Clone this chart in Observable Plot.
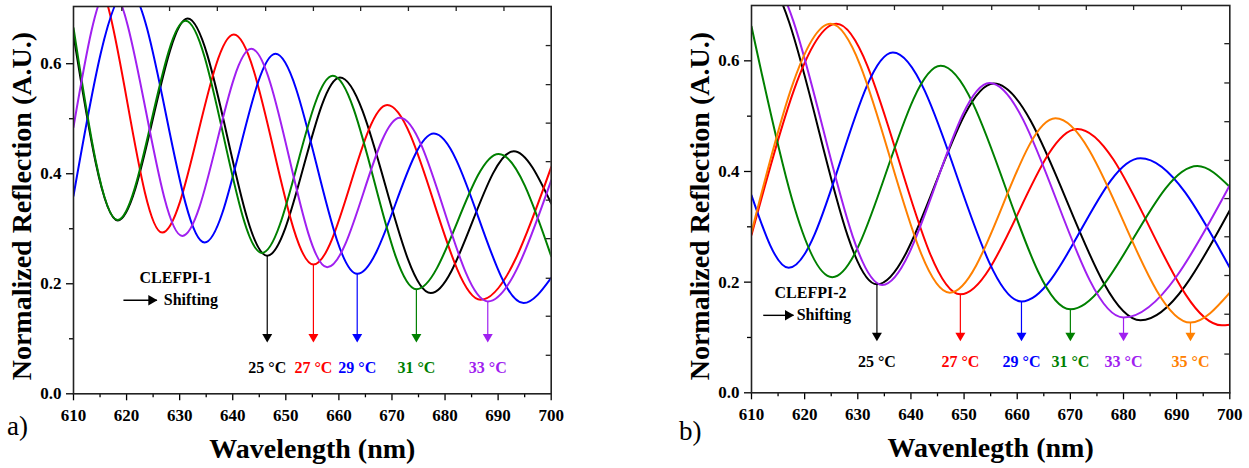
<!DOCTYPE html>
<html>
<head>
<meta charset="utf-8">
<script src="https://cdn.jsdelivr.net/npm/d3@7"></script>
<script src="https://cdn.jsdelivr.net/npm/@observablehq/plot@0.6"></script>
<style>
  body { margin: 0; background: #fff; }
  #fig { position: relative; width: 1249px; height: 468px; font-family: "Liberation Serif", "Times New Roman", serif; }
  #fig > svg { position: absolute; top: 0; }
  .tag { position: absolute; font-size: 27px; line-height: 27px; color: #000; }
</style>
</head>
<body>
<div id="fig"></div>
<script>
// Temperatures and their trace colours
const temps = ["25 °C", "27 °C", "29 °C", "31 °C", "33 °C", "35 °C"];
const palette = ["#000000", "#ff0000", "#0000ff", "#008000", "#a020f0", "#ff8000"];

// CLEFPI-1 reflection spectra: [wavelength (nm), normalized reflection]
const a25 = [[610, 0.652], [618.35, 0.315], [631.5, 0.682], [646.5, 0.251], [660.2, 0.575], [677.3, 0.183], [692.95, 0.441], [700, 0.346]];
const a27 = [[610, 0.725], [613.7, 0.76], [626.7, 0.293], [640.2, 0.653], [655.2, 0.235], [669.1, 0.525], [686.7, 0.171], [700, 0.412]];
const a29 = [[610, 0.36], [620.25, 0.736], [634.7, 0.275], [648.05, 0.618], [663.45, 0.218], [677.9, 0.473], [694.8, 0.165], [700, 0.211]];
const a31 = [[610, 0.665], [618.3, 0.316], [631.1, 0.678], [645.5, 0.256], [658.85, 0.578], [674.6, 0.19], [690.1, 0.436], [700, 0.25]];
const a33 = [[610, 0.485], [616.8, 0.74], [630.5, 0.287], [643.5, 0.627], [657.8, 0.23], [671.5, 0.502], [688.05, 0.168], [700, 0.388]];

// CLEFPI-2 reflection spectra
const b25 = [[610, 0.75], [611.6, 0.757], [633.6, 0.196], [655.6, 0.559], [683.2, 0.131], [700, 0.33]];
const b27 = [[610, 0.285], [626, 0.667], [649.3, 0.178], [671.3, 0.477], [698.5, 0.122], [700, 0.123]];
const b29 = [[610, 0.357], [617, 0.226], [636.6, 0.615], [660.8, 0.165], [683.2, 0.424], [700, 0.226]];
const b31 = [[610, 0.662], [625.2, 0.209], [645.6, 0.591], [670, 0.151], [693.9, 0.41], [700, 0.372]];
const b33 = [[610, 0.75], [612.3, 0.76], [634.6, 0.195], [654.8, 0.56], [680, 0.136], [700, 0.375]];
const b35 = [[610, 0.29], [624.9, 0.667], [647.3, 0.181], [667.2, 0.496], [692.6, 0.127], [700, 0.181]];

// Tracked dips (wavelength, nm), one per temperature
const dipsA = [646.5, 655.2, 663.45, 674.6, 688.05];
const dipsB = [633.6, 649.3, 660.8, 670, 680, 692.6];

// Axis ticks
const majorX = [610, 620, 630, 640, 650, 660, 670, 680, 690, 700];
const minorX = [615, 625, 635, 645, 655, 665, 675, 685, 695];
const majorY = [0, 0.2, 0.4, 0.6];
const minorY = [0.1, 0.3, 0.5];
const topTicksA = [619.1, 628.1, 637.1, 646.2, 655.2, 664.1, 673.1, 682.1, 691.1];
const rightTicksA = [0.07, 0.141, 0.21, 0.282, 0.352, 0.422, 0.492, 0.562, 0.633];
const topTicksB = [619.1, 628.0, 636.9, 646.0, 655.2, 664.1, 673.0, 681.9, 690.9];
const rightTicksB = [0.07, 0.142, 0.212, 0.282, 0.351, 0.42, 0.49, 0.56, 0.631];

const SERIF = "'Liberation Serif', 'Times New Roman', serif";
const H = 468;
const ARROW_TIP = 0.093;

function panel(o) {
  const innerW = o.width - o.ml - o.mr;
  const innerH = H - o.mt - o.mb;
  const rows = o.series.flatMap(([temp, pts]) => pts.map(([wl, r]) => ({temp, wl, r})));
  const dips = o.series.map(([temp, pts], i) => {
    const p = d3.least(pts, q => Math.abs(q[0] - o.dips[i]));
    return {temp, wl: p[0], r: p[1]};
  });
  return Plot.plot({
    width: o.width,
    height: H,
    marginLeft: o.ml,
    marginRight: o.mr,
    marginTop: o.mt,
    marginBottom: o.mb,
    style: {fontFamily: SERIF, background: "transparent", overflow: "visible", color: "#000"},
    x: {domain: [610, 700], label: null},
    y: {domain: [0, o.yMax], label: null},
    color: {domain: temps, range: palette},
    marks: [
      Plot.line(rows, {x: "wl", y: "r", z: "temp", stroke: "temp", strokeWidth: 2, curve: "monotone-x", clip: true}),
      // dip markers
      Plot.ruleX(dips, {x: "wl", y1: "r", y2: () => ARROW_TIP + 0.01, stroke: "temp", strokeWidth: 1.2}),
      Plot.dot(dips, {x: "wl", y: () => ARROW_TIP, symbol: "triangle", rotate: 180, r: 3.7, fill: "temp", stroke: null, dy: -5.8}),
      Plot.text(dips, {x: "wl", y: () => o.labelY, text: "temp", fill: "temp", fontSize: 16, fontWeight: "bold", fontFamily: SERIF}),
      // sensor name and shift direction
      Plot.text([o.name], {x: () => o.nameX, y: () => o.nameY, text: d => d, fontSize: 16, fontWeight: "bold", fontFamily: SERIF}),
      Plot.ruleY([o.shift], {y: d => d.y, x1: d => d.x1, x2: d => d.x2, stroke: "#000", strokeWidth: 1.4}),
      Plot.dot([o.shift], {x: d => d.x2, y: d => d.y, symbol: "triangle", rotate: 90, r: 3.9, fill: "#000", stroke: null, dx: -6}),
      Plot.text(["Shifting"], {x: () => o.shift.tx, y: () => o.shift.y, text: d => d, textAnchor: "start", fontSize: 16, fontWeight: "bold", fontFamily: SERIF}),
      // axes
      Plot.axisX({ticks: majorX, tickSize: 7, tickPadding: 8, strokeWidth: 1.3, fontSize: 17, fontWeight: "bold", fontFamily: SERIF, tickFormat: d => String(d), label: null}),
      Plot.axisX({ticks: minorX, tickSize: 4, strokeWidth: 1.3, tickFormat: () => "", label: null}),
      Plot.axisY({ticks: majorY, tickSize: 7, tickPadding: 5, strokeWidth: 1.3, fontSize: 17, fontWeight: "bold", fontFamily: SERIF, tickFormat: d3.format(".1f"), label: null}),
      Plot.axisY({ticks: minorY, tickSize: 4, strokeWidth: 1.3, tickFormat: () => "", label: null}),
      Plot.ruleX(o.topTicks, {x: d => d, insetBottom: innerH - 5, stroke: "#222", strokeWidth: 1.3}),
      Plot.ruleY(o.rightTicks, {y: d => d, insetLeft: innerW - 5, stroke: "#222", strokeWidth: 1.3}),
      Plot.frame({stroke: "#222", strokeWidth: 1.6}),
      // titles
      Plot.text([o.xTitle], {frameAnchor: "bottom", lineAnchor: "bottom", textAnchor: "middle", dy: 63.7, text: d => d, fontSize: 28, fontWeight: "bold", fontFamily: SERIF}),
      Plot.text(["Normalized Reflection (A.U.)"], {frameAnchor: "left", rotate: -90, textAnchor: "middle", lineAnchor: "middle", dx: -51, dy: o.yTitleDy, text: d => d, fontSize: 28, fontWeight: "bold", fontFamily: SERIF})
    ]
  });
}

const fig = document.getElementById("fig");

const svgA = panel({
  width: 600, ml: 73, mr: 49.3, mt: 6, mb: 74.7, yMax: 0.704,
  series: [[temps[0], a25], [temps[1], a27], [temps[2], a29], [temps[3], a31], [temps[4], a33]],
  dips: dipsA, labelY: 0.047,
  name: "CLEFPI-1", nameX: 629.2, nameY: 0.21,
  shift: {x1: 619.5, x2: 625.8, y: 0.17, tx: 627.0},
  topTicks: topTicksA, rightTicks: rightTicksA,
  xTitle: "Wavelength (nm)", yTitleDy: 6
});
svgA.style.left = "0px";
fig.appendChild(svgA);

const svgB = panel({
  width: 569, ml: 71, mr: 19.7, mt: 5, mb: 75.7, yMax: 0.70,
  series: [[temps[0], b25], [temps[1], b27], [temps[2], b29], [temps[3], b31], [temps[4], b33], [temps[5], b35]],
  dips: dipsB, labelY: 0.055,
  name: "CLEFPI-2", nameX: 621.1, nameY: 0.181,
  shift: {x1: 612.3, x2: 618.0, y: 0.14, tx: 618.5},
  topTicks: topTicksB, rightTicks: rightTicksB,
  xTitle: "Wavenlegth (nm)", yTitleDy: 7
});
svgB.style.left = "680px";
fig.appendChild(svgB);

// panel tags
for (const [t, left, top] of [["a)", 7, 413], ["b)", 679, 418]]) {
  const d = document.createElement("div");
  d.className = "tag";
  d.textContent = t;
  d.style.left = left + "px";
  d.style.top = top + "px";
  fig.appendChild(d);
}
</script>
</body>
</html>
